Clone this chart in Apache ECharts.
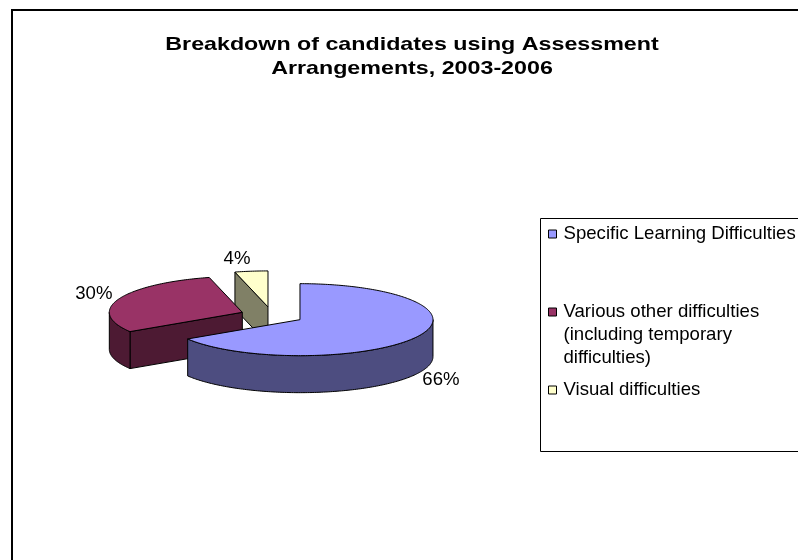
<!DOCTYPE html>
<html>
<head>
<meta charset="utf-8">
<script src="https://cdn.jsdelivr.net/npm/echarts@6/dist/echarts.min.js"></script>
<style>
  html, body { margin: 0; padding: 0; background: #ffffff; }
  #chart { width: 798px; height: 560px; }
</style>
</head>
<body>
<div id="chart"></div>
<script>
// Data
const categories = [
  'Specific Learning Difficulties',
  'Various other difficulties\n(including temporary\ndifficulties)',
  'Visual difficulties'
];
const values = [66, 30, 4];
const topColors = ['#9999FF', '#993366', '#FFFFCC'];
const sideColors = ['#4D4D80', '#4D1A33', '#808066'];
const titleLines = ['Breakdown of candidates using Assessment', 'Arrangements, 2003-2006'];

// Geometry of the tilted, exploded pie (pixels)
const PIE = { cx: 272, cy: 315.5, rx: 133, ry: 36, depth: 37, explode: 0.24 };
const FONT = '"Liberation Sans", Arial, sans-serif';

const total = values.reduce((a, b) => a + b, 0);
const startAngles = [];
let running = 0;
values.forEach(v => { startAngles.push(running / total * 360); running += v; });

const toRad = d => d * Math.PI / 180;

// Angles run clockwise from 12 o'clock (the back of the pie)
function rimPoint(c, deg, dy) {
  const t = toRad(deg);
  return [c[0] + PIE.rx * Math.sin(t), c[1] - PIE.ry * Math.cos(t) + (dy || 0)];
}
function arcPoints(c, a0, a1, dy) {
  const pts = [];
  const n = Math.max(2, Math.ceil(Math.abs(a1 - a0)));
  for (let i = 0; i <= n; i++) pts.push(rimPoint(c, a0 + (a1 - a0) * i / n, dy));
  return pts;
}

function makeRenderItem(idx) {
  return function (params, api) {
    const v = api.value(0);
    const a0 = startAngles[idx];
    const a1 = a0 + v / total * 360;
    const mid = toRad((a0 + a1) / 2);
    const s = Math.sin(mid), co = Math.cos(mid);
    const c = [PIE.cx + PIE.explode * PIE.rx * s, PIE.cy - PIE.explode * PIE.ry * co];
    const D = PIE.depth;
    const edge = { stroke: '#000000', lineWidth: 1, lineJoin: 'round' };
    const children = [];

    // side faces are painted back to front by their mean screen y
    const addSide = pts => {
      const meanY = pts.reduce((acc, p) => acc + p[1], 0) / pts.length;
      children.push({
        type: 'polygon', z2: Math.round(meanY),
        shape: { points: pts },
        style: Object.assign({ fill: sideColors[idx] }, edge)
      });
    };

    // outer wall, only the half facing the viewer
    const f0 = Math.max(a0, 90), f1 = Math.min(a1, 270);
    if (f1 > f0) addSide(arcPoints(c, f0, f1, 0).concat(arcPoints(c, f1, f0, D)));

    // radial cut faces
    if (Math.sin(toRad(a0)) < -1e-6) {
      const r = rimPoint(c, a0, 0);
      addSide([c, r, [r[0], r[1] + D], [c[0], c[1] + D]]);
    }
    if (Math.sin(toRad(a1)) > 1e-6) {
      const r = rimPoint(c, a1, 0);
      addSide([c, r, [r[0], r[1] + D], [c[0], c[1] + D]]);
    }

    // top face
    children.push({
      type: 'polygon', z2: 1000,
      shape: { points: [c].concat(arcPoints(c, a0, a1, 0)) },
      style: Object.assign({ fill: topColors[idx] }, edge)
    });

    // percentage label outside the rim
    const k = 1.05;
    const ax = c[0] + s * PIE.rx * k;
    const ay = c[1] - co * PIE.ry * k + (co < 0 ? D : 0);
    children.push({
      type: 'text', z2: 2000,
      x: ax, y: ay - co * 11,
      style: {
        text: Math.round(v / total * 100) + '%',
        fontFamily: FONT, fontSize: 18.6, fill: '#000000',
        align: s > 0.1 ? 'left' : (s < -0.1 ? 'right' : 'center'),
        verticalAlign: 'middle'
      }
    });

    return { type: 'group', children: children };
  };
}

// Multi-line legend names: pad with blank lines above so the marker
// sits beside the first line instead of the middle one.
function legendText(name) {
  const extra = name.split('\n').length - 1;
  return '\n'.repeat(extra) + name;
}

const chart = echarts.init(document.getElementById('chart'), null, { renderer: 'canvas' });

chart.setOption({
  animation: false,
  backgroundColor: '#ffffff',
  graphic: [
    { type: 'rect', silent: true, shape: { x: 12, y: 10, width: 900, height: 700 },
      style: { fill: 'none', stroke: '#000000', lineWidth: 2 } },
    { type: 'rect', silent: true, shape: { x: 540.5, y: 218.5, width: 300, height: 233 },
      style: { fill: '#ffffff', stroke: '#000000', lineWidth: 1 } },
    { type: 'text', silent: true, x: 412, y: 57, scaleX: 1.25,
      style: { text: titleLines.join('\n'), fontFamily: FONT, fontWeight: 'bold', fontSize: 18.6,
               lineHeight: 24, align: 'center', verticalAlign: 'middle', fill: '#000000' } }
  ],
  legend: {
    orient: 'vertical', left: 548, top: 222.5, padding: 0, itemGap: 9,
    itemWidth: 8, itemHeight: 8, icon: 'rect', selectedMode: false,
    itemStyle: { borderColor: '#000000', borderWidth: 1 },
    textStyle: { fontFamily: FONT, fontSize: 18.6, color: '#000000', lineHeight: 23, padding: [0, 0, 0, 2] },
    formatter: legendText,
    data: categories
  },
  series: categories.map((name, i) => ({
    type: 'custom',
    name: name,
    coordinateSystem: 'none',
    silent: true,
    itemStyle: { color: topColors[i] },
    renderItem: makeRenderItem(i),
    data: [[values[i]]]
  }))
});
</script>
</body>
</html>
